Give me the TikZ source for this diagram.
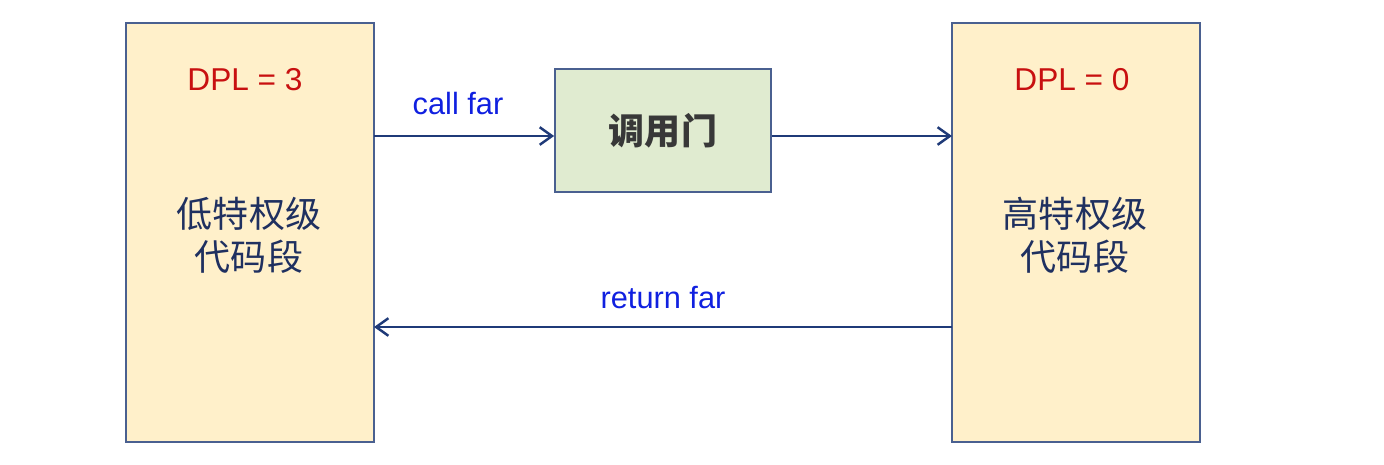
\documentclass[tikz,border=0pt]{standalone}
\usepackage{fontspec}
\usetikzlibrary{arrows.meta}
\setmainfont{Liberation Sans}
\newfontfamily\cjk{Noto Sans CJK SC}
\definecolor{segfill}{HTML}{FFF0CA}
\definecolor{gatefill}{HTML}{E0EBD0}
\definecolor{boxline}{HTML}{4A6090}
\definecolor{arrowline}{HTML}{1F3A78}
\definecolor{segtext}{HTML}{1F3060}
\definecolor{dplred}{HTML}{C81010}
\definecolor{callblue}{HTML}{1020E0}
\begin{document}
\begin{tikzpicture}[x=0.02cm,y=-0.02cm,
  segbox/.style={draw=boxline,fill=segfill,line width=1pt},
  gatebox/.style={draw=boxline,fill=gatefill,line width=1pt},
  flow/.style={draw=arrowline,line width=1.4pt,-{Straight Barb[length=7pt,width=10pt]}},
  dpl/.style={text=dplred,font=\fontsize{18}{20}\selectfont},
  seg/.style={align=center,text=segtext,font=\cjk\fontsize{20.5}{24.5}\selectfont},
  op/.style={text=callblue,font=\fontsize{17.5}{20}\selectfont}]

\useasboundingbox (0,0) rectangle (1384,464);

% two code segments
\draw[segbox] (126,23) rectangle (374,442);
\draw[segbox] (952,23) rectangle (1200,442);
\node[dpl] (dpllow) at (245,80) {DPL = 3};
\node[dpl] (dplhigh) at (1072,80) {DPL = 0};
\node[seg] (low) at (249,235) {低特权级\\代码段};
\node[seg] (high) at (1075,235) {高特权级\\代码段};

% gate
\node[gatebox,minimum width=216*0.02cm,minimum height=123*0.02cm,
  font=\cjk\bfseries\fontsize{20.5}{24}\selectfont,text=black!78] (gate) at (663,130.5) {调用门};

\coordinate (lowcall) at (374,136);
\coordinate (highcall) at (952,136);
\coordinate (highret) at (952,327);
\coordinate (lowret) at (374,327);

\draw[flow] (lowcall) -- (gate.west |- lowcall);
\draw[flow] (gate.east |- highcall) -- (highcall);
\draw[flow] (highret) -- (lowret);

\node[op] (call) at (458,104) {call far};
\node[op] (ret) at (663,298) {return far};

\end{tikzpicture}
\end{document}
